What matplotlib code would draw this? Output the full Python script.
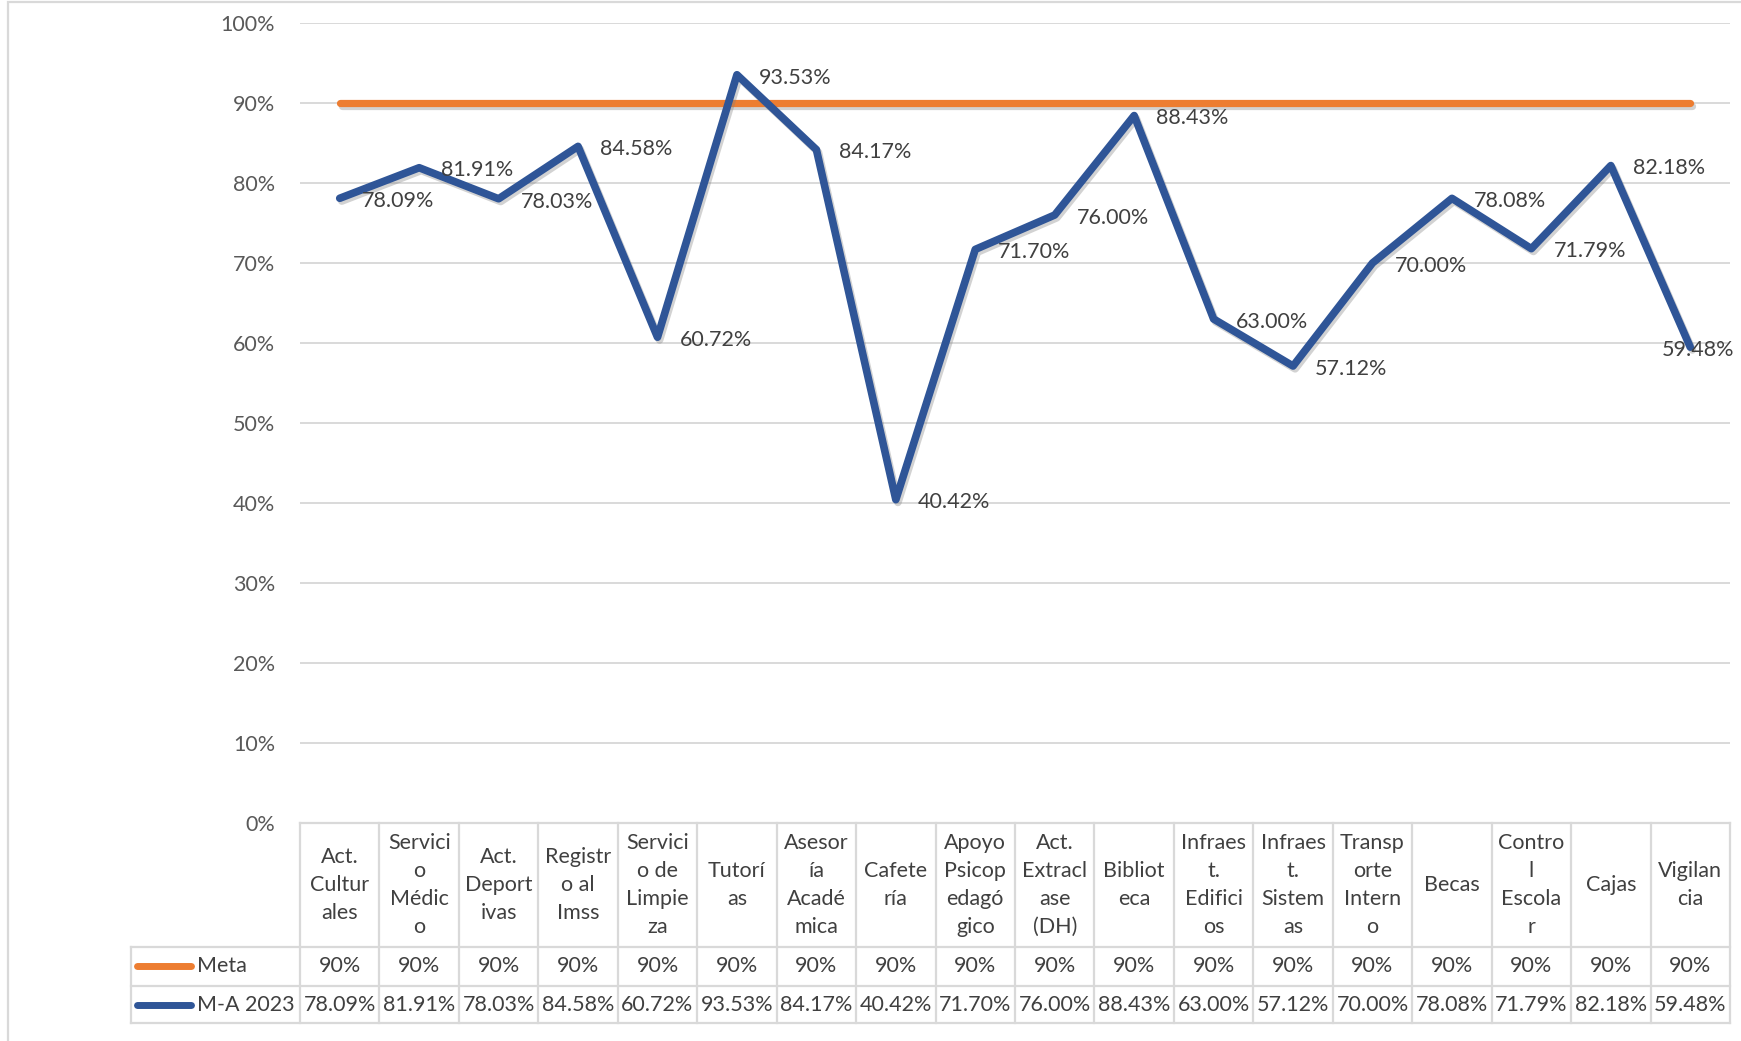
import matplotlib.pyplot as plt
import matplotlib.patheffects as pe
from matplotlib.patches import Rectangle
from matplotlib.ticker import PercentFormatter

CATEGORIES = [
    "Act.\nCultur\nales", "Servici\no\nMédic\no", "Act.\nDeport\nivas", "Registr\no al\nImss",
    "Servici\no de\nLimpie\nza", "Tutorí\nas", "Asesor\nía\nAcadé\nmica", "Cafete\nría",
    "Apoyo\nPsicop\nedagó\ngico", "Act.\nExtracl\nase\n(DH)", "Bibliot\neca", "Infraes\nt.\nEdifici\nos",
    "Infraes\nt.\nSistem\nas", "Transp\norte\nIntern\no", "Becas", "Contro\nl\nEscola\nr",
    "Cajas", "Vigilan\ncia",
]
META = [0.90, 0.90, 0.90, 0.90, 0.90, 0.90, 0.90, 0.90, 0.90,
        0.90, 0.90, 0.90, 0.90, 0.90, 0.90, 0.90, 0.90, 0.90]
MA_2023 = [0.7809, 0.8191, 0.7803, 0.8458, 0.6072, 0.9353, 0.8417, 0.4042, 0.7170,
           0.7600, 0.8843, 0.6300, 0.5712, 0.7000, 0.7808, 0.7179, 0.8218, 0.5948]
SERIES_NAMES = ["Meta", "M-A 2023"]

ORANGE = "#ED7D31"
BLUE = "#2F5597"
GRID = "#D9D9D9"
TEXT = "#404040"
TICK = "#595959"

plt.rcParams["font.family"] = ["Lato", "DejaVu Sans"]
FS = 15.5

fig = plt.figure(figsize=(17.41, 10.41), dpi=100)
fig.patch.set_facecolor("white")
fig.patches.append(Rectangle((8 / 1741, -0.2), 1.2, 1.2 - 3 / 1041 + 0.001, transform=fig.transFigure,
                             fill=False, edgecolor=GRID, linewidth=1.6))

ax = fig.add_axes([300 / 1741, 218 / 1041, 1430 / 1741, 800 / 1041])
x = list(range(len(CATEGORIES)))
ax.set_xlim(-0.5, len(CATEGORIES) - 0.5)
ax.set_ylim(0, 1.0)
ax.set_yticks([i / 10 for i in range(11)])
ax.yaxis.set_major_formatter(PercentFormatter(xmax=1.0, decimals=0))
ax.tick_params(axis="y", length=0, pad=18, labelsize=FS, labelcolor=TICK)
ax.set_xticks([])
ax.grid(axis="y", color=GRID, linewidth=1.4)
ax.set_axisbelow(True)
for side in ["top", "right", "left", "bottom"]:
    ax.spines[side].set_visible(False)

shadow = [pe.SimpleLineShadow(offset=(1.5, -2), shadow_color="#7f7f7f", alpha=0.35), pe.Normal()]
ax.plot(x, META, color=ORANGE, linewidth=5.2, solid_capstyle="round", path_effects=shadow, zorder=3)
ax.plot(x, MA_2023, color=BLUE, linewidth=5.5, solid_capstyle="round", solid_joinstyle="round",
        path_effects=shadow, zorder=4)

# data labels to the right of each point; the last one is pushed inside the plot
for i, v in enumerate(MA_2023):
    if i == len(MA_2023) - 1:
        ax.annotate(f"{v:.2%}", xy=(ax.get_xlim()[1], v), xytext=(3, -2), textcoords="offset points",
                    ha="right", va="center", fontsize=FS, color=TEXT, zorder=5, annotation_clip=False)
    else:
        ax.annotate(f"{v:.2%}", xy=(i, v), xytext=(16, -2), textcoords="offset points",
                    ha="left", va="center", fontsize=FS, color=TEXT, zorder=5)

# data table under the axis
trans = ax.get_xaxis_transform()
n = len(CATEGORIES)
x_left = -0.5
x_right = n - 0.5
legend_left = -2.63
y_head = -0.155
y_meta = -0.2035
y_bot = -0.2506
line_kw = dict(color=GRID, linewidth=1.6, transform=trans, clip_on=False, zorder=1)

ax.plot([x_left, x_right], [0, 0], **line_kw)
for yy in [y_head, y_meta, y_bot]:
    ax.plot([legend_left, x_right], [yy, yy], **line_kw)
for i in range(n + 1):
    ax.plot([i - 0.5, i - 0.5], [0, y_bot], **line_kw)
ax.plot([legend_left, legend_left], [y_head, y_bot], **line_kw)

for i, cat in enumerate(CATEGORIES):
    ax.text(i, y_head / 2, cat, transform=trans, ha="center", va="center", fontsize=FS,
            color=TEXT, linespacing=1.5, clip_on=False)
    ax.text(i, (y_head + y_meta) / 2, f"{META[i]:.0%}", transform=trans, ha="center", va="center",
            fontsize=FS, color=TEXT, clip_on=False)
    ax.text(i, (y_meta + y_bot) / 2, f"{MA_2023[i]:.2%}", transform=trans, ha="center", va="center",
            fontsize=FS, color=TEXT, clip_on=False)

for name, color, (ya, yb) in zip(SERIES_NAMES, [ORANGE, BLUE], [(y_head, y_meta), (y_meta, y_bot)]):
    ym = (ya + yb) / 2
    ax.plot([-2.55, -1.87], [ym, ym], color=color, linewidth=5, solid_capstyle="round",
            transform=trans, clip_on=False)
    ax.text(-1.8, ym, name, transform=trans, ha="left", va="center", fontsize=FS, color=TEXT,
            clip_on=False)

fig.savefig("out.png", dpi=100)
